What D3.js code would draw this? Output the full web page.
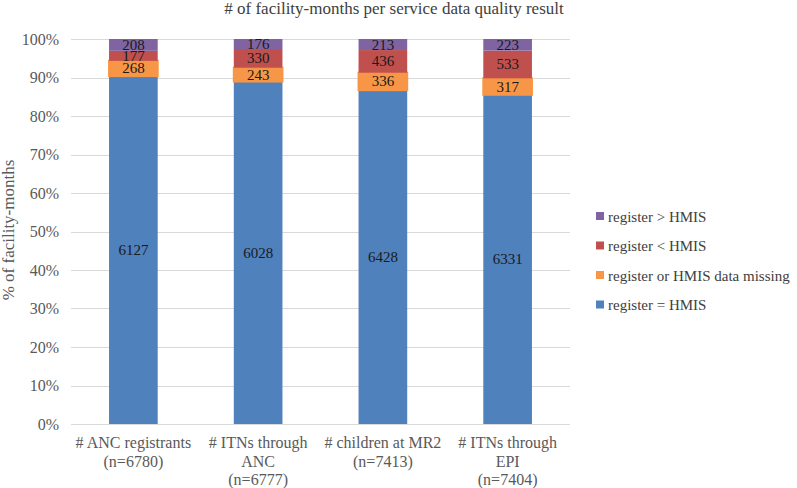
<!DOCTYPE html>
<html>
  <head>
    <meta charset="UTF-8" />
    <script src="https://d3js.org/d3.v7.min.js"></script>
    <title>Data quality</title>
    <style>
      body { margin: 0; background: #fff; }
      text { font-family: "Liberation Serif", "DejaVu Serif", serif; }
    </style>
  </head>
  <body>
    <svg id="chart" width="797" height="488"></svg>
    <script>
      // data
      var categories = [
        ["# ANC registrants", "(n=6780)"],
        ["# ITNs through", "ANC", "(n=6777)"],
        ["# children at MR2", "(n=7413)"],
        ["# ITNs through", "EPI", "(n=7404)"]
      ];
      var seriesNames = ["register = HMIS", "register or HMIS data missing", "register < HMIS", "register > HMIS"];
      var seriesColors = ["#4f81bd", "#f79646", "#c0504d", "#8064a2"];
      var equalVals = [6127, 6028, 6428, 6331];
      var missingVals = [268, 243, 336, 317];
      var lessVals = [177, 330, 436, 533];
      var greaterVals = [208, 176, 213, 223];
      var yTicks = [0, 0.1, 0.2, 0.3, 0.4, 0.5, 0.6, 0.7, 0.8, 0.9, 1];

      var series = [equalVals, missingVals, lessVals, greaterVals];

      var svg = d3.select("#chart");
      var plotL = 71, plotR = 570, plotT = 39, plotB = 424;

      var x = d3.scaleBand()
        .domain(d3.range(categories.length))
        .range([plotL, plotR])
        .paddingInner(0.61)
        .paddingOuter(0.305);

      var y = d3.scaleLinear().domain([0, 1]).range([plotB, plotT]);

      // gridlines
      svg.append("g")
        .selectAll("line")
        .data(yTicks)
        .enter().append("line")
        .attr("x1", plotL)
        .attr("x2", plotR)
        .attr("y1", d => Math.round(y(d)) + 0.5)
        .attr("y2", d => Math.round(y(d)) + 0.5)
        .style("stroke", "#d9d9d9")
        .style("stroke-width", 1);

      // y tick labels
      svg.append("g")
        .selectAll("text")
        .data(yTicks)
        .enter().append("text")
        .attr("x", 59)
        .attr("y", d => y(d) + 5.5)
        .attr("text-anchor", "end")
        .style("font-size", "16px")
        .style("fill", "#595959")
        .text(d3.format(".0%"));

      // stacked segments
      var stacked = categories.map(function(c, i) {
        var total = d3.sum(series, s => s[i]);
        var acc = 0;
        return series.map(function(s, k) {
          var seg = { cat: i, k: k, value: s[i], y0: acc / total, y1: (acc + s[i]) / total };
          acc += s[i];
          return seg;
        });
      }).flat();

      svg.append("g")
        .selectAll("rect")
        .data(stacked)
        .enter().append("rect")
        .attr("x", d => x(d.cat))
        .attr("width", x.bandwidth())
        .attr("y", d => y(d.y1))
        .attr("height", d => y(d.y0) - y(d.y1))
        .attr("fill", d => seriesColors[d.k])
        .style("stroke", d => d.k === 1 ? seriesColors[1] : "none")
        .style("stroke-width", 2);

      svg.append("g")
        .selectAll("text")
        .data(stacked)
        .enter().append("text")
        .attr("x", d => x(d.cat) + x.bandwidth() / 2)
        .attr("y", d => y((d.y0 + d.y1) / 2) + 5)
        .attr("text-anchor", "middle")
        .style("font-size", "15px")
        .style("fill", "#1a1a1a")
        .text(d => d.value);

      // x labels
      var xl = svg.append("g")
        .selectAll("text")
        .data(categories)
        .enter().append("text")
        .attr("x", (d, i) => x(i) + x.bandwidth() / 2)
        .attr("y", 448)
        .attr("text-anchor", "middle")
        .style("font-size", "16px")
        .style("fill", "#595959");

      xl.selectAll("tspan")
        .data(d => d)
        .enter().append("tspan")
        .attr("x", function() { return d3.select(this.parentNode).attr("x"); })
        .attr("dy", (d, j) => j === 0 ? 0 : 18.5)
        .text(d => d);

      // title
      svg.append("text")
        .attr("x", 394)
        .attr("y", 14)
        .attr("text-anchor", "middle")
        .style("font-size", "17px")
        .style("fill", "#404040")
        .text("# of facility-months per service data quality result");

      // y axis title
      svg.append("text")
        .attr("transform", "translate(14,230) rotate(-90)")
        .attr("text-anchor", "middle")
        .style("font-size", "17px")
        .style("fill", "#595959")
        .text("% of facility-months");

      // legend, reversed order
      var legend = svg.append("g")
        .selectAll("g")
        .data(d3.range(seriesNames.length).reverse())
        .enter().append("g")
        .attr("transform", (d, i) => "translate(596," + (212 + i * 29.5) + ")");

      legend.append("rect")
        .attr("width", 8)
        .attr("height", 8)
        .attr("fill", d => seriesColors[d]);

      legend.append("text")
        .attr("x", 12)
        .attr("y", 9.5)
        .style("font-size", "15px")
        .style("fill", "#404040")
        .text(d => seriesNames[d]);
    </script>
  </body>
</html>
